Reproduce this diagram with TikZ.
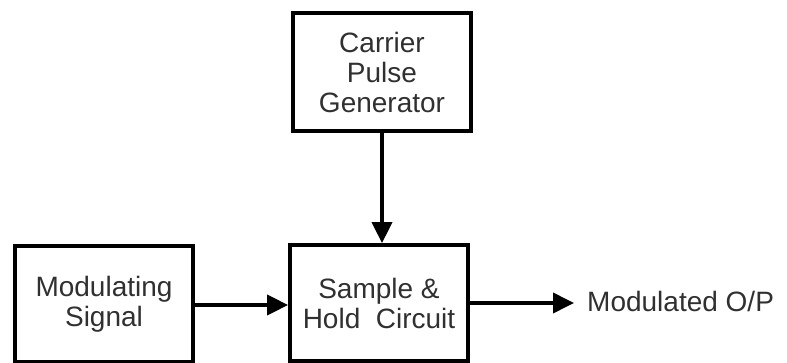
\documentclass[tikz,border=0pt]{standalone}
\usepackage{fontspec}
\setmainfont{Liberation Sans}
\usepackage{tikz}
\usetikzlibrary{arrows.meta}
\definecolor{labelink}{RGB}{48, 48, 48}

\begin{document}
\begin{tikzpicture}[x=1pt, y=-1pt,
    blockbox/.style={draw=black, line width=3.8pt, minimum width=178pt, minimum height=116pt,
      align=center, text=labelink, font=\fontsize{28}{30}\selectfont},
    sigline/.style={line width=3.8pt, -{Triangle[length=21pt, width=20pt]}}]
  \useasboundingbox (0,0) rectangle (787,363);
  % blocks
  \node[blockbox] (mod) at (104,304) {Modulating\\Signal};
  \node[blockbox] (sh) at (379,303) {Sample \&\\Hold\ \ Circuit};
  \node[blockbox, minimum height=118pt] (cpg) at (382,72) {Carrier\\Pulse\\Generator};
  \node[anchor=west, inner sep=0pt, text=labelink, font=\fontsize{28}{30}\selectfont]
    (out) at (587,301) {Modulated O/P};
  \coordinate (outend) at (574,303);
  % signals
  \draw[sigline] (mod.east |- 0,305) -- (sh.west |- 0,305);
  \draw[sigline] (cpg.south) -- (cpg.south |- sh.north);
  \draw[sigline] (sh.east) -- (outend);
\end{tikzpicture}
\end{document}
